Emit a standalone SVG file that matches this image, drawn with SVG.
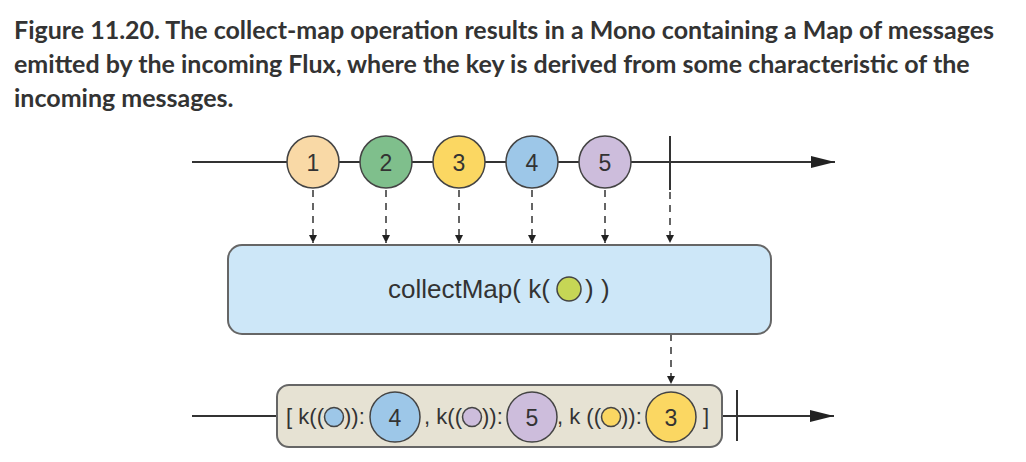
<svg xmlns="http://www.w3.org/2000/svg" width="1026" height="462" viewBox="0 0 1026 462">
<defs>
<style>
.title{font-family:Lato,"Liberation Sans",sans-serif;font-weight:bold;font-size:25px;fill:#333}
.op{font-family:"Liberation Sans",Arial,sans-serif;font-size:26px;fill:#333}
.lbl{font-family:"Liberation Sans",Arial,sans-serif;font-size:22px;fill:#333}
.end{text-anchor:end}
.num{font-family:"Liberation Sans",Arial,sans-serif;font-size:23px;fill:#333;text-anchor:middle;dominant-baseline:central}
.line{stroke:#333;stroke-width:2;fill:none}
.dash{stroke:#333;stroke-width:1.5;stroke-dasharray:7 6;fill:none}
.marble{stroke:#444;stroke-width:1.5}
</style>
<marker id="ah" viewBox="0 0 10 10" refX="10" refY="5" markerWidth="8" markerHeight="11" markerUnits="userSpaceOnUse" orient="auto"><path d="M0,0 L10,5 L0,10 z" fill="#222"/></marker>
<marker id="big" viewBox="0 0 24 12" refX="24" refY="6" markerWidth="24" markerHeight="12" markerUnits="userSpaceOnUse" orient="auto"><path d="M0,0 L24,6 L0,12 z" fill="#222"/></marker>
</defs>
<rect width="1026" height="462" fill="#fff"/>
<g id="title">
<text class="title" x="14" y="39">Figure 11.20. The collect-map operation results in a Mono containing a Map of messages</text>
<text class="title" x="14" y="73">emitted by the incoming Flux, where the key is derived from some characteristic of the</text>
<text class="title" x="14" y="107">incoming messages.</text>
</g>
<g id="connectors">
<line class="line" x1="192" y1="162" x2="835" y2="162" marker-end="url(#big)"/>
<line class="line" x1="670" y1="136" x2="670" y2="190"/>
<line class="dash" x1="313" y1="190" x2="313" y2="243" marker-end="url(#ah)"/>
<line class="dash" x1="386" y1="190" x2="386" y2="243" marker-end="url(#ah)"/>
<line class="dash" x1="459" y1="190" x2="459" y2="243" marker-end="url(#ah)"/>
<line class="dash" x1="532" y1="190" x2="532" y2="243" marker-end="url(#ah)"/>
<line class="dash" x1="605" y1="190" x2="605" y2="243" marker-end="url(#ah)"/>
<line class="dash" x1="670" y1="192" x2="670" y2="243" marker-end="url(#ah)"/>
<line class="dash" x1="671" y1="334" x2="671" y2="384" marker-end="url(#ah)"/>
<line class="line" x1="192" y1="416" x2="277" y2="416"/>
<line class="line" x1="722" y1="416" x2="834" y2="416" marker-end="url(#big)"/>
<line class="line" x1="737" y1="390" x2="737" y2="441"/>
</g>
<g id="m1"><circle class="marble" cx="313" cy="162" r="26" fill="#f9d9a6"/><text class="num" x="313" y="163">1</text></g>
<g id="m2"><circle class="marble" cx="386" cy="162" r="26" fill="#7fbf8c"/><text class="num" x="386" y="163">2</text></g>
<g id="m3"><circle class="marble" cx="459" cy="162" r="26" fill="#fbd762"/><text class="num" x="459" y="163">3</text></g>
<g id="m4"><circle class="marble" cx="532" cy="162" r="26" fill="#9dc7e8"/><text class="num" x="532" y="163">4</text></g>
<g id="m5"><circle class="marble" cx="605" cy="162" r="26" fill="#cdbddc"/><text class="num" x="605" y="163">5</text></g>
<g id="operator">
<rect x="228" y="245" width="543" height="89" rx="14" fill="#cde7f8" stroke="#666" stroke-width="2"/>
<text class="op" x="388" y="298">collectMap( k(</text>
<circle class="marble" cx="569" cy="289" r="12" fill="#c6d655"/>
<text class="op" x="585" y="298">) )</text>
</g>
<g id="result">
<rect x="277" y="385" width="445" height="62" rx="12" fill="#e6e2d3" stroke="#666" stroke-width="2"/>
<text class="lbl end" x="324" y="424">[ k((</text>
<circle class="marble" cx="334" cy="417" r="9.5" fill="#9dc7e8"/>
<text class="lbl" x="344" y="424">)):</text>
<circle class="marble" cx="395" cy="417" r="25" fill="#9dc7e8"/><text class="num" x="395" y="418">4</text>
<text class="lbl end" x="462" y="424">, k((</text>
<circle class="marble" cx="472" cy="417" r="9.5" fill="#cdbddc"/>
<text class="lbl" x="482" y="424">)):</text>
<circle class="marble" cx="532" cy="417" r="25" fill="#cdbddc"/><text class="num" x="532" y="418">5</text>
<text class="lbl end" x="601" y="424">, k ((</text>
<circle class="marble" cx="611" cy="417" r="9.5" fill="#fbd762"/>
<text class="lbl" x="621" y="424">)):</text>
<circle class="marble" cx="671" cy="417" r="25" fill="#fbd762"/><text class="num" x="671" y="418">3</text>
<text class="lbl" x="703" y="424">]</text>
</g>
</svg>
